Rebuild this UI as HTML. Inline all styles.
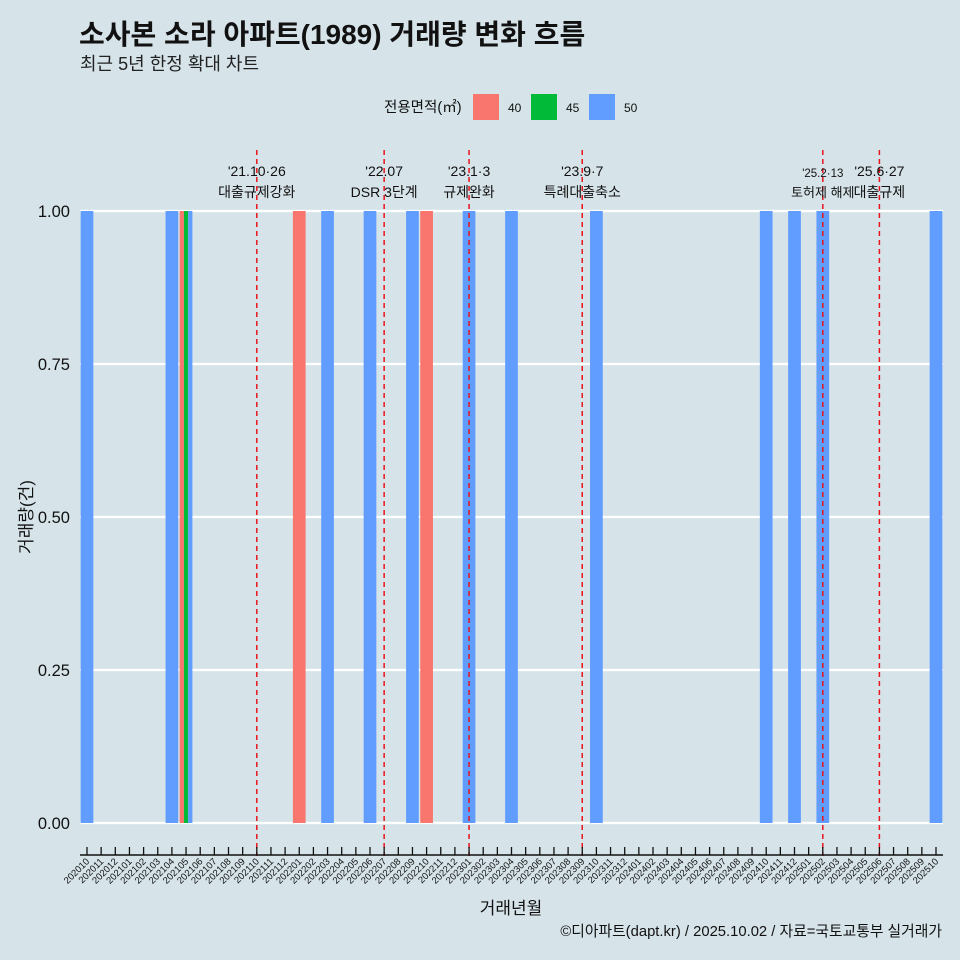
<!DOCTYPE html>
<html><head><meta charset="utf-8"><style>
body{margin:0;background:#d6e4ea;}
svg{display:block;font-family:"Liberation Sans","Noto Sans CJK KR",sans-serif;}
</style></head><body>
<svg id="c" width="960" height="960" viewBox="0 0 960 960">
<rect width="960" height="960" fill="#d6e4ea"/>
<text x="79" y="44" font-size="28" font-weight="bold" fill="#111">소사본 소라 아파트(1989) 거래량 변화 흐름</text>
<text x="80" y="70" font-size="18" fill="#222">최근 5년 한정 확대 차트</text>
<g>
<text x="384" y="112" font-size="14.5" fill="#111">전용면적(㎡)</text>
<rect x="473" y="94" width="26" height="26" fill="#f8766d"/>
<text x="508" y="112" font-size="12" fill="#111">40</text>
<rect x="531" y="94" width="26" height="26" fill="#00ba38"/>
<text x="566" y="112" font-size="12" fill="#111">45</text>
<rect x="589" y="94" width="26" height="26" fill="#619cff"/>
<text x="624" y="112" font-size="12" fill="#111">50</text>
</g>
<g id="grid"></g><g id="bars"></g><g id="events"></g><g id="axes"></g>
<text x="32" y="517" font-size="17" fill="#111" transform="rotate(-90 32 517)" text-anchor="middle">거래량(건)</text>
<text x="511" y="914" font-size="17" fill="#111" text-anchor="middle">거래년월</text>
<text x="942" y="936" font-size="14.8" fill="#111" text-anchor="end">©디아파트(dapt.kr) / 2025.10.02 / 자료=국토교통부 실거래가</text>
</svg>
<script>
const months=[];for(let y=2020;y<=2025;y++)for(let m=1;m<=12;m++){const k=y*100+m;if(k>=202010&&k<=202510)months.push(String(k));}
const barMonths=["202010","202104","202105","202105","202105","202201","202203","202206","202209","202210","202301","202304","202310","202410","202412","202502","202510"];
const barAreas=["50","50","40","45","50","40","50","50","50","40","50","50","50","50","50","50","50"];
const barValues=[1,1,1,1,1,1,1,1,1,1,1,1,1,1,1,1,1];
const yTicks=[0,0.25,0.5,0.75,1];
const yTickLabels=["0.00","0.25","0.50","0.75","1.00"];
const eventMonths=["202110","202207","202301","202309","202502","202506"];
const eventDates=["'21.10·26","'22.07","'23.1·3","'23.9·7","'25.2·13","'25.6·27"];
const eventNames=["대출규제강화","DSR 3단계","규제완화","특례대출축소","토허제 해제","대출규제"];
const colors={"40":"#f8766d","45":"#00ba38","50":"#619cff"};
const NS="http://www.w3.org/2000/svg";
const X0=87,STEP=14.15,Y0=823,Y1=211,BW=12.7;
const xs=m=>X0+months.indexOf(m)*STEP;
const ys=v=>Y0-(Y0-Y1)*v;
function mk(p,t,a){const e=document.createElementNS(NS,t);for(const k in a)e.setAttribute(k,a[k]);document.getElementById(p).appendChild(e);return e;}
yTicks.forEach((v,i)=>{
 const l=mk("grid","line",{x1:80,x2:943,y1:ys(v),y2:ys(v),stroke:"#fff","stroke-width":2.2});
 
 
 const t=mk("axes","text",{x:70,y:ys(v)+6,"font-size":16.5,"text-anchor":"end",fill:"#111"});t.textContent=yTickLabels[i];
 
 
});
const groups={};barMonths.forEach((m,i)=>{(groups[m]=groups[m]||[]).push(i);});
Object.keys(groups).forEach(m=>{const g=groups[m];const w=BW/g.length;
 g.forEach((i,j)=>{const x=xs(m)-BW/2+j*w;
  const r=mk("bars","rect",{x:x,y:ys(barValues[i]),width:w,height:ys(0)-ys(barValues[i]),fill:colors[barAreas[i]]});
  
  
 });});
eventMonths.forEach((m,i)=>{const x=xs(m);
 const l=mk("events","line",{x1:x,x2:x,y1:150,y2:856,stroke:"#e8141c","stroke-width":1.5,"stroke-dasharray":"5,4"});
 
 
 const small=m==="202502";
 const t1=mk("events","text",{x:x,y:small?177:176,"font-size":small?11.5:14,"text-anchor":"middle",fill:"#111"});t1.textContent=eventDates[i];
 
 
 const t2=mk("events","text",{x:x,y:197,"font-size":small?13:14,"text-anchor":"middle",fill:"#111"});t2.textContent=eventNames[i];
 
 
});
const ax=mk("axes","line",{x1:80,x2:943,y1:855,y2:855,stroke:"#111","stroke-width":1.5});


months.forEach(m=>{const x=xs(m);
 const tk=mk("axes","line",{x1:x,x2:x,y1:847,y2:855,stroke:"#111","stroke-width":1.3});
 
 
 const t=mk("axes","text",{x:x+3,y:862,"font-size":9.5,"text-anchor":"end",fill:"#111",transform:`rotate(-45 ${x+3} 862)`});t.textContent=m;
 
 
});
</script>
</body></html>
